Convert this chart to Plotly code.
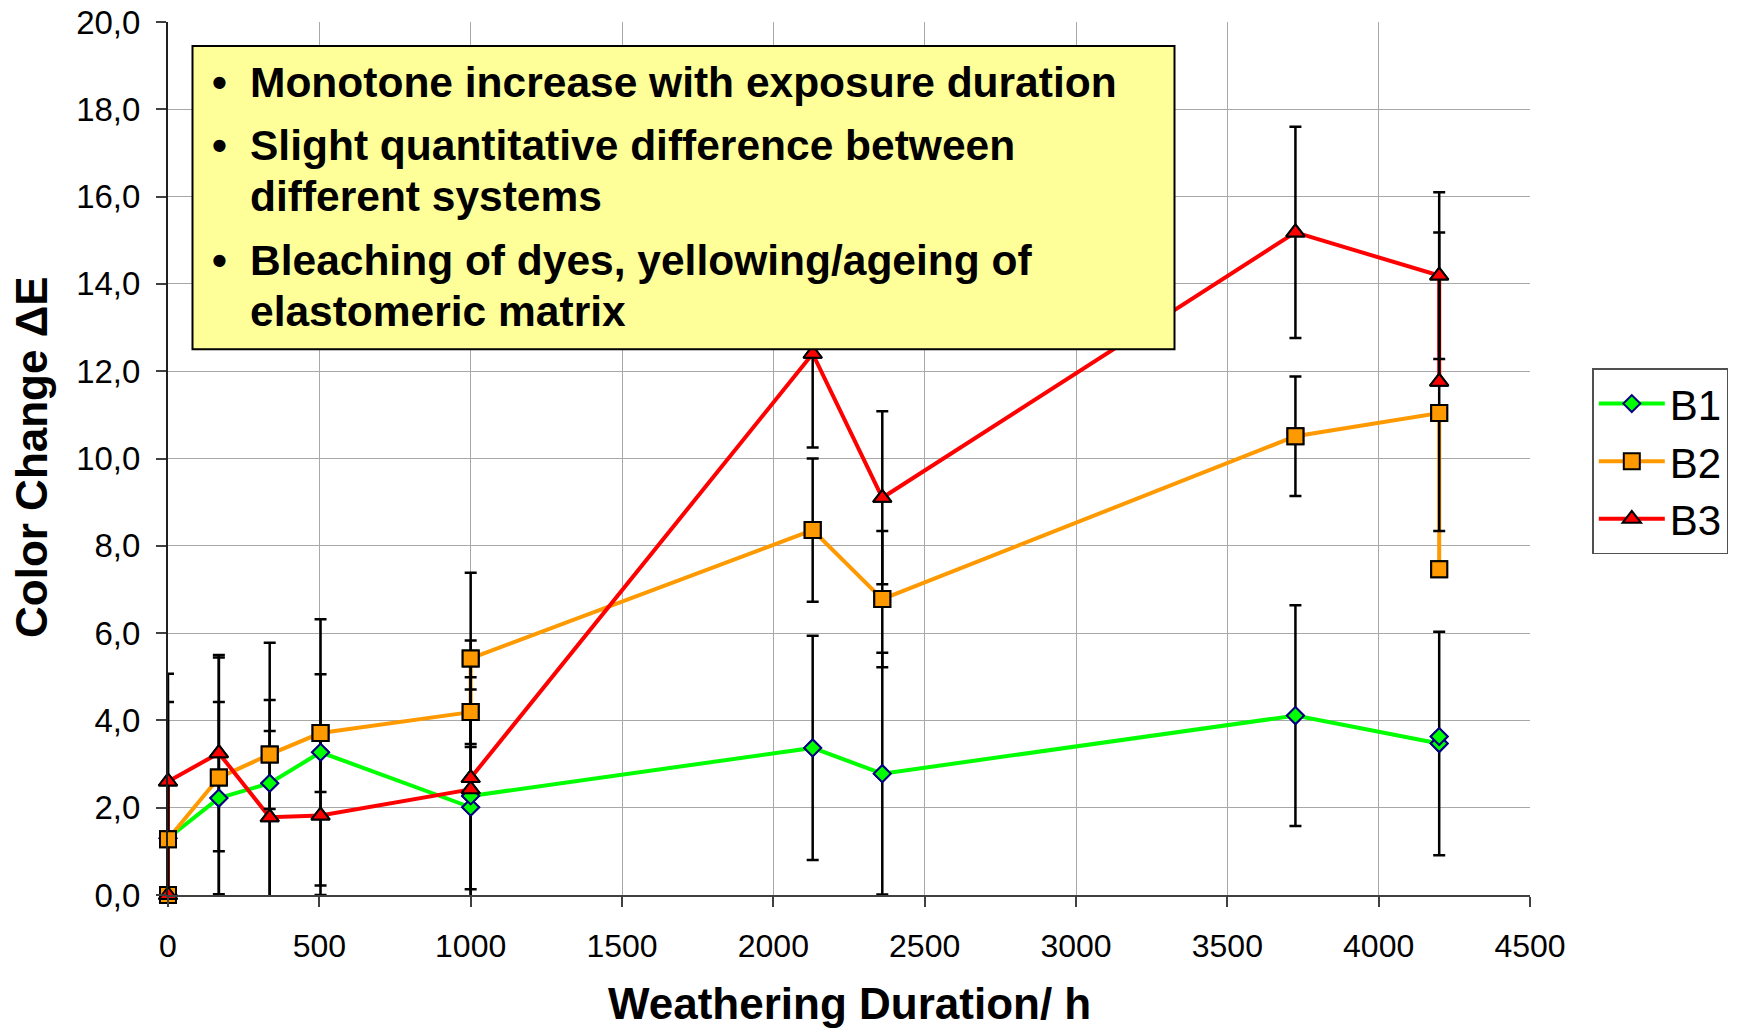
import plotly.graph_objects as go

# ---------------- data ----------------
hours = [0, 0, 168, 336, 504, 1000, 1000, 2130, 2360, 3725, 4200, 4200]

b1 = [0.0, 1.30, 2.22, 2.56, 3.27, 2.01, 2.27, 3.37, 2.78, 4.11, 3.47, 3.63]
b2 = [0.0, 1.28, 2.69, 3.22, 3.71, 4.19, 5.42, 8.36, 6.78, 10.51, 11.04, 7.46]
b3 = [0.0, 2.60, 3.25, 1.78, 1.82, 2.42, 2.68, 12.40, 9.10, 15.18, 14.19, 11.76]

b1_err = [0, 0, 2.20, 3.22, 3.05, 2.16, 3.56, 2.57, 2.77, 2.53, 2.56, 0]
b2_err = [0, 3.14, 2.75, 1.25, 1.35, 0.80, 1.96, 1.64, 1.56, 1.37, 0, 0]
b3_err = [0, 2.47, 2.25, 1.98, 1.82, 2.29, 0, 2.15, 1.98, 2.42, 1.91, 3.42]

series_names = ["B1", "B2", "B3"]

y_tickvals = [0, 2, 4, 6, 8, 10, 12, 14, 16, 18, 20]
y_ticktext = ["0,0", "2,0", "4,0", "6,0", "8,0", "10,0", "12,0", "14,0", "16,0", "18,0", "20,0"]
x_tickvals = [0, 500, 1000, 1500, 2000, 2500, 3000, 3500, 4000, 4500]

bullets = [
    ["Monotone increase with exposure duration"],
    ["Slight quantitative difference between", "different systems"],
    ["Bleaching of dyes, yellowing/ageing of", "elastomeric matrix"],
]

x_title = "Weathering Duration/ h"
y_title = "Color Change ΔE"

# ---------------- styles ----------------
FONT = "Liberation Sans, Arial, sans-serif"
styles = [
    dict(color="#00FF00", symbol="diamond", size=13, mfill="#00FF00", mline="#000080"),
    dict(color="#FF9900", symbol="square", size=16, mfill="#FF9900", mline="#000000"),
    dict(color="#FF0000", symbol="triangle-up", size=16, mfill="#FF0000", mline="#000000"),
]
values = [b1, b2, b3]
errors = [b1_err, b2_err, b3_err]

fig = go.Figure()

# 1) lines (with markers, legend)
for name, y, st in zip(series_names, values, styles):
    fig.add_trace(go.Scatter(
        x=hours, y=y, name=name, mode="lines+markers",
        line=dict(color=st["color"], width=4),
        marker=dict(symbol=st["symbol"], size=st["size"], color=st["mfill"],
                    line=dict(color=st["mline"], width=2)),
        cliponaxis=False, hoverinfo="skip",
    ))

# 2) error bars above all lines
for name, y, err in zip(series_names, values, errors):
    fig.add_trace(go.Scatter(
        x=hours, y=y, mode="markers", showlegend=False,
        marker=dict(size=2, color="rgba(0,0,0,0)"),
        error_y=dict(type="data", array=err, symmetric=True,
                     color="black", thickness=2.5, width=6),
        hoverinfo="skip",
    ))

# 3) markers on top
for name, y, st in zip(series_names, values, styles):
    fig.add_trace(go.Scatter(
        x=hours, y=y, mode="markers", showlegend=False,
        marker=dict(symbol=st["symbol"], size=st["size"], color=st["mfill"],
                    line=dict(color=st["mline"], width=2)),
        cliponaxis=False, hoverinfo="skip",
    ))

# ---------------- layout ----------------
W, H = 1737, 1030
L, R, T, B = 168, 207, 22, 135
pw, ph = W - L - R, H - T - B


def px_x(px):
    return (px - L) / pw


def px_y(py):
    return 1 - (py - T) / ph


shapes = [dict(type="rect", xref="paper", yref="paper",
               x0=px_x(192.5), x1=px_x(1174.5), y0=px_y(349.3), y1=px_y(46),
               fillcolor="#FFFF99", line=dict(color="black", width=2), layer="above")]

annotations = []
box_font = 42.5
baselines = [[97.3], [160.7, 211.7], [275.7, 326.7]]
for lines, bls in zip(bullets, baselines):
    for i, (txt, bl) in enumerate(zip(lines, bls)):
        mid = bl - 0.3465 * box_font
        if i == 0:
            annotations.append(dict(xref="paper", yref="paper", x=px_x(219), y=px_y(mid),
                                    text="<b>•</b>", showarrow=False, xanchor="center", yanchor="middle",
                                    font=dict(family=FONT, size=box_font, color="black")))
        annotations.append(dict(xref="paper", yref="paper", x=px_x(247.5), y=px_y(mid),
                                text="<b>" + txt + "</b>", showarrow=False, xanchor="left", yanchor="middle",
                                font=dict(family=FONT, size=box_font, color="black")))

TITLE_SIZE = 44
annotations.append(dict(xref="paper", yref="paper", x=0.5, y=px_y(1019 - 0.3465 * TITLE_SIZE),
                        text="<b>" + x_title + "</b>", showarrow=False, xanchor="center", yanchor="middle",
                        font=dict(family=FONT, size=TITLE_SIZE, color="black")))
annotations.append(dict(xref="paper", yref="paper", x=px_x(31), y=px_y(457),
                        text="<b>" + y_title + "</b>", showarrow=False, xanchor="center", yanchor="middle",
                        textangle=-90, font=dict(family=FONT, size=TITLE_SIZE, color="black")))

fig.update_layout(
    width=W, height=H, autosize=False,
    margin=dict(l=L, r=R, t=T, b=B, autoexpand=False),
    paper_bgcolor="white", plot_bgcolor="white",
    font=dict(family=FONT, color="black"),
    shapes=shapes, annotations=annotations,
    showlegend=True,
    legend=dict(x=px_x(1592.3), y=px_y(368.3), xanchor="left", yanchor="top",
                bgcolor="white", bordercolor="#505050", borderwidth=1.5,
                font=dict(family=FONT, size=42, color="black"),
                itemwidth=66, tracegroupgap=0),
    xaxis=dict(range=[0, 4500], tickvals=x_tickvals, showgrid=True, gridcolor="#a8a8a8", gridwidth=1,
               showline=True, linecolor="#404040", linewidth=2, zeroline=False,
               ticks="outside", ticklen=10, tickwidth=1.5, tickcolor="#404040",
               tickfont=dict(family=FONT, size=32, color="black"), ticklabelstandoff=12),
    yaxis=dict(range=[0, 20], tickvals=y_tickvals, ticktext=y_ticktext, showgrid=True,
               gridcolor="#a8a8a8", gridwidth=1,
               showline=True, linecolor="#202020", linewidth=2, zeroline=False,
               ticks="outside", ticklen=10, tickwidth=1.5, tickcolor="#404040",
               tickfont=dict(family=FONT, size=33, color="black"), ticklabelstandoff=9),
)

fig.write_html("out.html")
